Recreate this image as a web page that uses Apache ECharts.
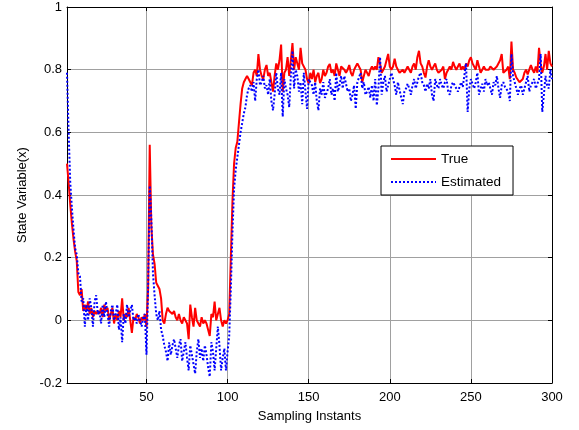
<!DOCTYPE html>
<html>
<head>
<meta charset="utf-8">
<script src="https://cdn.jsdelivr.net/npm/echarts@6/dist/echarts.min.js"></script>
<style>
html,body{margin:0;padding:0;background:#fff;}
#chart{width:579px;height:430px;}
</style>
</head>
<body>
<div id="chart"></div>
<script>
const xTicks = [50, 100, 150, 200, 250, 300];
const seriesNames = ['True', 'Estimated'];
const trueVals = [
0.50,0.44,0.37,0.31,0.26,0.22,0.19,0.09,0.08,0.10,
0.03,0.05,0.03,0.06,0.02,0.04,0.01,0.03,0.02,0.03,
0.02,0.04,0.01,0.05,0.03,0.04,0.00,0.02,0.04,-0.01,
0.02,0.00,0.03,0.01,0.07,0.00,0.02,0.01,0.04,0.00,
-0.04,0.01,0.00,0.02,0.01,-0.01,0.01,0.00,0.02,-0.02,
0.10,0.56,0.30,0.21,0.18,0.12,0.12,0.10,0.07,0.00,
-0.01,0.02,0.04,0.03,0.03,0.02,0.03,0.01,0.00,0.02,
0.00,-0.01,0.01,0.00,-0.01,-0.06,0.05,0.01,-0.02,0.04,
0.00,-0.01,-0.02,0.01,-0.01,0.00,-0.01,-0.03,-0.05,0.02,
0.01,0.06,0.00,0.02,0.04,0.00,-0.02,0.00,-0.01,0.00,
0.02,0.20,0.38,0.50,0.55,0.57,0.63,0.69,0.74,0.76,
0.77,0.78,0.77,0.76,0.75,0.79,0.80,0.78,0.85,0.80,
0.78,0.77,0.80,0.815,0.78,0.79,0.76,0.73,0.78,0.82,
0.80,0.83,0.88,0.73,0.79,0.80,0.84,0.78,0.83,0.885,
0.80,0.84,0.82,0.80,0.87,0.82,0.815,0.80,0.77,0.756,
0.79,0.77,0.80,0.76,0.78,0.79,0.757,0.77,0.80,0.78,
0.79,0.81,0.818,0.79,0.80,0.78,0.82,0.80,0.78,0.81,
0.815,0.80,0.79,0.80,0.815,0.79,0.78,0.80,0.81,0.82,
0.82,0.80,0.76,0.78,0.80,0.79,0.78,0.80,0.81,0.80,
0.81,0.80,0.84,0.82,0.79,0.80,0.81,0.83,0.85,0.81,
0.80,0.81,0.835,0.81,0.80,0.79,0.785,0.80,0.79,0.80,
0.81,0.80,0.79,0.81,0.82,0.80,0.84,0.86,0.82,0.81,
0.79,0.775,0.81,0.83,0.81,0.80,0.81,0.82,0.80,0.79,
0.79,0.80,0.81,0.77,0.79,0.80,0.81,0.80,0.825,0.81,
0.80,0.81,0.82,0.80,0.81,0.80,0.82,0.81,0.83,0.84,
0.82,0.82,0.80,0.83,0.81,0.79,0.80,0.81,0.80,0.80,
0.80,0.81,0.815,0.80,0.80,0.81,0.81,0.83,0.85,0.79,
0.79,0.80,0.81,0.77,0.89,0.80,0.79,0.775,0.77,0.76,
0.755,0.77,0.79,0.80,0.785,0.80,0.815,0.80,0.79,0.81,
0.79,0.87,0.82,0.79,0.81,0.85,0.80,0.86,0.82,0.81
];
const estVals = [
0.79,0.60,0.44,0.36,0.29,0.23,0.21,0.15,0.14,0.06,
0.07,-0.02,0.05,0.00,0.07,0.04,-0.02,0.06,0.08,0.02,
0.03,-0.01,0.05,0.01,0.06,0.02,-0.02,0.03,0.05,0.00,
0.02,0.05,-0.03,0.01,-0.07,0.02,-0.01,0.05,0.01,0.03,
0.05,0.00,0.01,-0.01,0.02,0.00,-0.02,0.01,0.02,-0.11,
0.10,0.43,0.32,0.15,0.08,0.02,0.00,0.03,-0.03,-0.05,
-0.08,-0.10,-0.13,-0.07,-0.11,-0.08,-0.06,-0.09,-0.12,-0.08,
-0.06,-0.13,-0.10,-0.07,-0.12,-0.16,-0.08,-0.11,-0.14,-0.17,
-0.10,-0.06,-0.12,-0.09,-0.13,-0.08,-0.11,-0.15,-0.18,-0.07,
-0.10,-0.16,-0.09,-0.02,-0.08,-0.16,-0.12,-0.09,-0.16,-0.10,
-0.05,0.10,0.28,0.42,0.48,0.52,0.56,0.60,0.63,0.66,
0.68,0.72,0.74,0.75,0.73,0.76,0.70,0.77,0.80,0.75,
0.76,0.78,0.74,0.75,0.72,0.77,0.70,0.67,0.72,0.79,
0.74,0.72,0.79,0.65,0.77,0.74,0.72,0.68,0.78,0.86,
0.74,0.80,0.78,0.73,0.76,0.69,0.79,0.73,0.675,0.77,
0.77,0.75,0.72,0.76,0.70,0.67,0.74,0.72,0.76,0.71,
0.71,0.74,0.77,0.72,0.74,0.70,0.79,0.73,0.75,0.78,
0.74,0.78,0.755,0.73,0.74,0.70,0.72,0.75,0.675,0.76,
0.76,0.79,0.74,0.76,0.72,0.73,0.745,0.71,0.75,0.70,
0.77,0.686,0.74,0.84,0.72,0.76,0.78,0.73,0.75,0.77,
0.79,0.77,0.75,0.72,0.76,0.735,0.74,0.69,0.73,0.74,
0.755,0.74,0.72,0.75,0.77,0.74,0.76,0.78,0.79,0.76,
0.75,0.73,0.755,0.74,0.77,0.72,0.70,0.77,0.75,0.74,
0.77,0.75,0.74,0.76,0.77,0.73,0.72,0.75,0.76,0.75,
0.75,0.73,0.745,0.76,0.745,0.74,0.82,0.665,0.74,0.77,
0.77,0.74,0.76,0.79,0.72,0.74,0.755,0.73,0.77,0.75,
0.76,0.74,0.72,0.76,0.75,0.78,0.74,0.71,0.75,0.76,
0.745,0.75,0.73,0.70,0.85,0.78,0.76,0.74,0.72,0.74,
0.75,0.72,0.74,0.76,0.78,0.73,0.75,0.76,0.77,0.74,
0.74,0.77,0.85,0.665,0.72,0.78,0.75,0.74,0.80,0.77
];

const samples = trueVals.map((_, i) => i + 1);
const trueData = samples.map((s, i) => [s, trueVals[i]]);
const estData = samples.map((s, i) => [s, estVals[i]]);

const font = 'Arial, "Liberation Sans", sans-serif';
const chart = echarts.init(document.getElementById('chart'), null, {renderer: 'canvas'});
chart.setOption({
  animation: false,
  backgroundColor: '#ffffff',
  grid: {left: 67, right: 27, top: 7, bottom: 47, containLabel: false},
  legend: {
    data: seriesNames,
    orient: 'vertical',
    left: 381, top: 146,
    itemWidth: 45, itemHeight: 14, itemGap: 9,
    padding: [6, 12, 6, 9],
    backgroundColor: '#ffffff',
    borderColor: '#000000', borderWidth: 1, borderRadius: 0,
    itemStyle: {color: 'transparent', borderColor: 'transparent', borderWidth: 0, opacity: 0},
    textStyle: {fontFamily: font, fontSize: 13.5, color: '#000'}
  },
  xAxis: [{
    type: 'value', min: 1, max: 300,
    position: 'bottom',
    name: 'Sampling Instants', nameLocation: 'middle', nameGap: 27,
    nameTextStyle: {fontFamily: font, fontSize: 13, color: '#000'},
    axisLine: {show: true, onZero: false, lineStyle: {color: '#000', width: 1}},
    axisTick: {show: true, inside: true, length: 4, customValues: xTicks, lineStyle: {color: '#000'}},
    axisLabel: {show: true, customValues: xTicks, margin: 8, fontFamily: font, fontSize: 13, color: '#000'},
    splitLine: {show: true, lineStyle: {color: '#a0a0a0', width: 1}}
  }, {
    type: 'value', min: 1, max: 300,
    position: 'top',
    axisLine: {show: true, onZero: false, lineStyle: {color: '#000', width: 1}},
    axisTick: {show: true, inside: true, length: 4, customValues: xTicks, lineStyle: {color: '#000'}},
    axisLabel: {show: false, customValues: xTicks},
    splitLine: {show: false}
  }],
  yAxis: [{
    type: 'value', min: -0.2, max: 1, interval: 0.2,
    position: 'left',
    name: 'State Variable(x)', nameLocation: 'middle', nameGap: 38, nameRotate: 90,
    nameTextStyle: {fontFamily: font, fontSize: 13, color: '#000'},
    axisLine: {show: true, onZero: false, lineStyle: {color: '#000', width: 1}},
    axisTick: {show: true, inside: true, length: 4, lineStyle: {color: '#000'}},
    axisLabel: {show: true, margin: 5, fontFamily: font, fontSize: 13, color: '#000',
      formatter: v => String(Math.round(v * 10) / 10)},
    splitLine: {show: true, lineStyle: {color: '#a0a0a0', width: 1}}
  }, {
    type: 'value', min: -0.2, max: 1, interval: 0.2,
    position: 'right',
    axisLine: {show: true, onZero: false, lineStyle: {color: '#000', width: 1}},
    axisTick: {show: true, inside: true, length: 4, lineStyle: {color: '#000'}},
    axisLabel: {show: false},
    splitLine: {show: false}
  }],
  series: [{
    name: seriesNames[0], type: 'line', data: trueData,
    xAxisIndex: 0, yAxisIndex: 0,
    symbol: 'none', showSymbol: false,
    lineStyle: {color: '#ff0000', width: 2, type: 'solid'},
    itemStyle: {color: '#ff0000'}
  }, {
    name: seriesNames[1], type: 'line', data: estData,
    xAxisIndex: 0, yAxisIndex: 0,
    symbol: 'none', showSymbol: false,
    lineStyle: {color: '#0000ff', width: 2, type: [2, 2]},
    itemStyle: {color: '#0000ff'}
  }]
});
</script>
</body>
</html>
